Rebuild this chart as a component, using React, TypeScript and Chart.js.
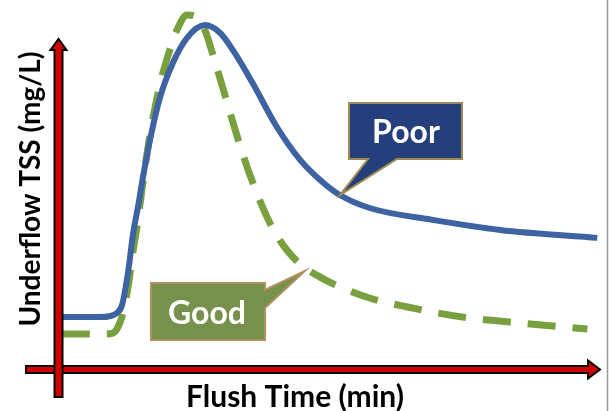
import React, { useEffect, useRef } from "react";
import { Chart, registerables } from "chart.js";

Chart.register(...registerables);

// Flush time (min) and underflow TSS (relative units)
const poorTime = [0.2, 4.4, 5.6, 6.3, 6.9, 7.6, 8.1, 8.7, 9.2, 10.0, 11.1, 12.6, 14.1, 16.1, 17.8, 19.2, 21.4, 24.1, 26.7, 28.9, 31.1, 34.4, 41.4, 48.9, 59.7];
const poorTSS = [14.7, 14.7, 15.0, 15.8, 18.1, 27.8, 37.5, 45.8, 53.3, 63.9, 75.6, 85.6, 92.2, 95.8, 93.6, 88.9, 79.7, 67.5, 58.3, 52.8, 48.6, 45.0, 41.7, 38.9, 36.7];

const goodTime = [0.2, 5.0, 5.9, 6.4, 7.0, 7.6, 8.0, 8.6, 9.1, 10.0, 11.1, 12.2, 13.1, 14.1, 15.0, 16.1, 17.0, 18.1, 19.4, 21.1, 23.0, 24.4, 26.3, 28.9, 31.4, 34.4, 38.6, 44.7, 50.9, 58.6];
const goodTSS = [10.0, 10.0, 10.3, 11.7, 15.8, 23.6, 31.1, 40.6, 50.0, 65.3, 79.2, 88.9, 95.0, 98.6, 98.3, 94.4, 87.5, 78.3, 67.2, 54.2, 42.5, 36.1, 30.3, 25.8, 22.8, 20.0, 17.5, 14.7, 13.1, 11.4];

const xTitle = "Flush Time (min)";
const yTitle = "Underflow TSS (mg/L)";
const poorLabel = "Poor";
const goodLabel = "Good";
// callout anchor points on the curves (time, TSS)
const poorAnchor = [31.1, 48.6];
const goodAnchor = [27.2, 27.5];

const FONT = "Lato, 'Open Sans', sans-serif";

function arrowPath(ctx: CanvasRenderingContext2D, pts: number[][]) {
  ctx.beginPath();
  ctx.moveTo(pts[0][0], pts[0][1]);
  for (let i = 1; i < pts.length; i++) ctx.lineTo(pts[i][0], pts[i][1]);
  ctx.closePath();
  ctx.fillStyle = "#d00000";
  ctx.fill();
  ctx.lineWidth = 2;
  ctx.strokeStyle = "#000000";
  ctx.lineJoin = "miter";
  ctx.stroke();
}

const overlayPlugin = {
  id: "overlay",
  afterDatasetsDraw(chart: any) {
    const ctx: CanvasRenderingContext2D = chart.ctx;
    const xs = chart.scales.x;
    const ys = chart.scales.y;
    const ox = xs.getPixelForValue(0) - 1.5;
    const oy = ys.getPixelForValue(0) - 0.5;
    ctx.save();

    // horizontal axis arrow
    const hl = 26, ht = 600, hh = 3.5, ah = 9, ab = 588;
    arrowPath(ctx, [
      [hl, oy - hh], [ab, oy - hh], [ab, oy - ah], [ht, oy], [ab, oy + ah], [ab, oy + hh], [hl, oy + hh],
    ]);
    // vertical axis arrow
    const vb = 397, vt = 39, vw = 4, aw = 8, vab = 50;
    arrowPath(ctx, [
      [ox - vw, vb], [ox - vw, vab], [ox - aw, vab], [ox, vt], [ox + aw, vab], [ox + vw, vab], [ox + vw, vb],
    ]);

    // Poor callout
    const pTip = [xs.getPixelForValue(poorAnchor[0]), ys.getPixelForValue(poorAnchor[1])];
    const pb = { l: 349, t: 103, r: 462, b: 159 };
    ctx.beginPath();
    ctx.moveTo(pb.l, pb.t);
    ctx.lineTo(pb.r, pb.t);
    ctx.lineTo(pb.r, pb.b);
    ctx.lineTo(397, pb.b);
    ctx.lineTo(pTip[0], pTip[1]);
    ctx.lineTo(368, pb.b);
    ctx.lineTo(pb.l, pb.b);
    ctx.closePath();
    ctx.fillStyle = "#253f7c";
    ctx.fill();
    ctx.lineWidth = 2;
    ctx.strokeStyle = "#a08b55";
    ctx.stroke();
    ctx.fillStyle = "#ffffff";
    ctx.font = `bold 32px ${FONT}`;
    ctx.textAlign = "center";
    ctx.textBaseline = "alphabetic";
    ctx.fillText(poorLabel, 406, 143);

    // Good callout
    const gTip = [xs.getPixelForValue(goodAnchor[0]), ys.getPixelForValue(goodAnchor[1])];
    const gb = { l: 151, t: 283, r: 265, b: 340 };
    ctx.beginPath();
    ctx.moveTo(gb.l, gb.t);
    ctx.lineTo(gb.r, gb.t);
    ctx.lineTo(gb.r, 290);
    ctx.lineTo(gTip[0], gTip[1]);
    ctx.lineTo(gb.r, 308);
    ctx.lineTo(gb.r, gb.b);
    ctx.lineTo(gb.l, gb.b);
    ctx.closePath();
    ctx.fillStyle = "#76914b";
    ctx.fill();
    ctx.lineWidth = 2;
    ctx.strokeStyle = "#b0915e";
    ctx.stroke();
    ctx.fillStyle = "#ffffff";
    ctx.font = `bold 32px ${FONT}`;
    ctx.fillText(goodLabel, 207, 324);

    // axis titles
    ctx.fillStyle = "#000000";
    ctx.font = `bold 30px ${FONT}`;
    ctx.textAlign = "center";
    ctx.fillText(xTitle, 295, 407);
    ctx.save();
    ctx.font = `bold 28px ${FONT}`;
    ctx.translate(40, 189);
    ctx.rotate(-Math.PI / 2);
    ctx.fillText(yTitle, 0, 0);
    ctx.restore();

    // right border line
    ctx.strokeStyle = "#999999";
    ctx.lineWidth = 1.5;
    ctx.beginPath();
    ctx.moveTo(607.5, 0);
    ctx.lineTo(607.5, chart.height);
    ctx.stroke();

    ctx.restore();
  },
};

export default function App() {
  const ref = useRef<HTMLCanvasElement | null>(null);
  useEffect(() => {
    if (!ref.current) return;
    const chart = new Chart(ref.current, {
      type: "line",
      data: {
        datasets: [
          {
            label: poorLabel,
            data: poorTime.map((t, i) => ({ x: t, y: poorTSS[i] })),
            borderColor: "#3d63a3",
            borderWidth: 6,
            pointRadius: 0,
            cubicInterpolationMode: "monotone",
            borderCapStyle: "butt",
            clip: false,
            fill: false,
          },
          {
            label: goodLabel,
            data: goodTime.map((t, i) => ({ x: t, y: goodTSS[i] })),
            borderColor: "#79a03e",
            borderWidth: 7,
            borderDash: [28, 17],
            pointRadius: 0,
            cubicInterpolationMode: "monotone",
            borderCapStyle: "butt",
            clip: false,
            fill: false,
          },
        ],
      },
      options: {
        responsive: false,
        animation: false,
        events: [],
        layout: { padding: { left: 60, right: 9, top: 10, bottom: 41 } },
        plugins: { legend: { display: false }, tooltip: { enabled: false }, title: { display: false } },
        scales: {
          x: { type: "linear", min: 0, max: 60, display: false },
          y: { type: "linear", min: 0, max: 100, display: false },
        },
      },
      plugins: [overlayPlugin],
    });
    return () => chart.destroy();
  }, []);
  return (
    <div style={{ position: "absolute", left: 0, top: 0, width: 609, height: 411, background: "#ffffff" }}>
      <canvas ref={ref} width={609} height={411} style={{ display: "block", width: 609, height: 411 }} />
    </div>
  );
}
